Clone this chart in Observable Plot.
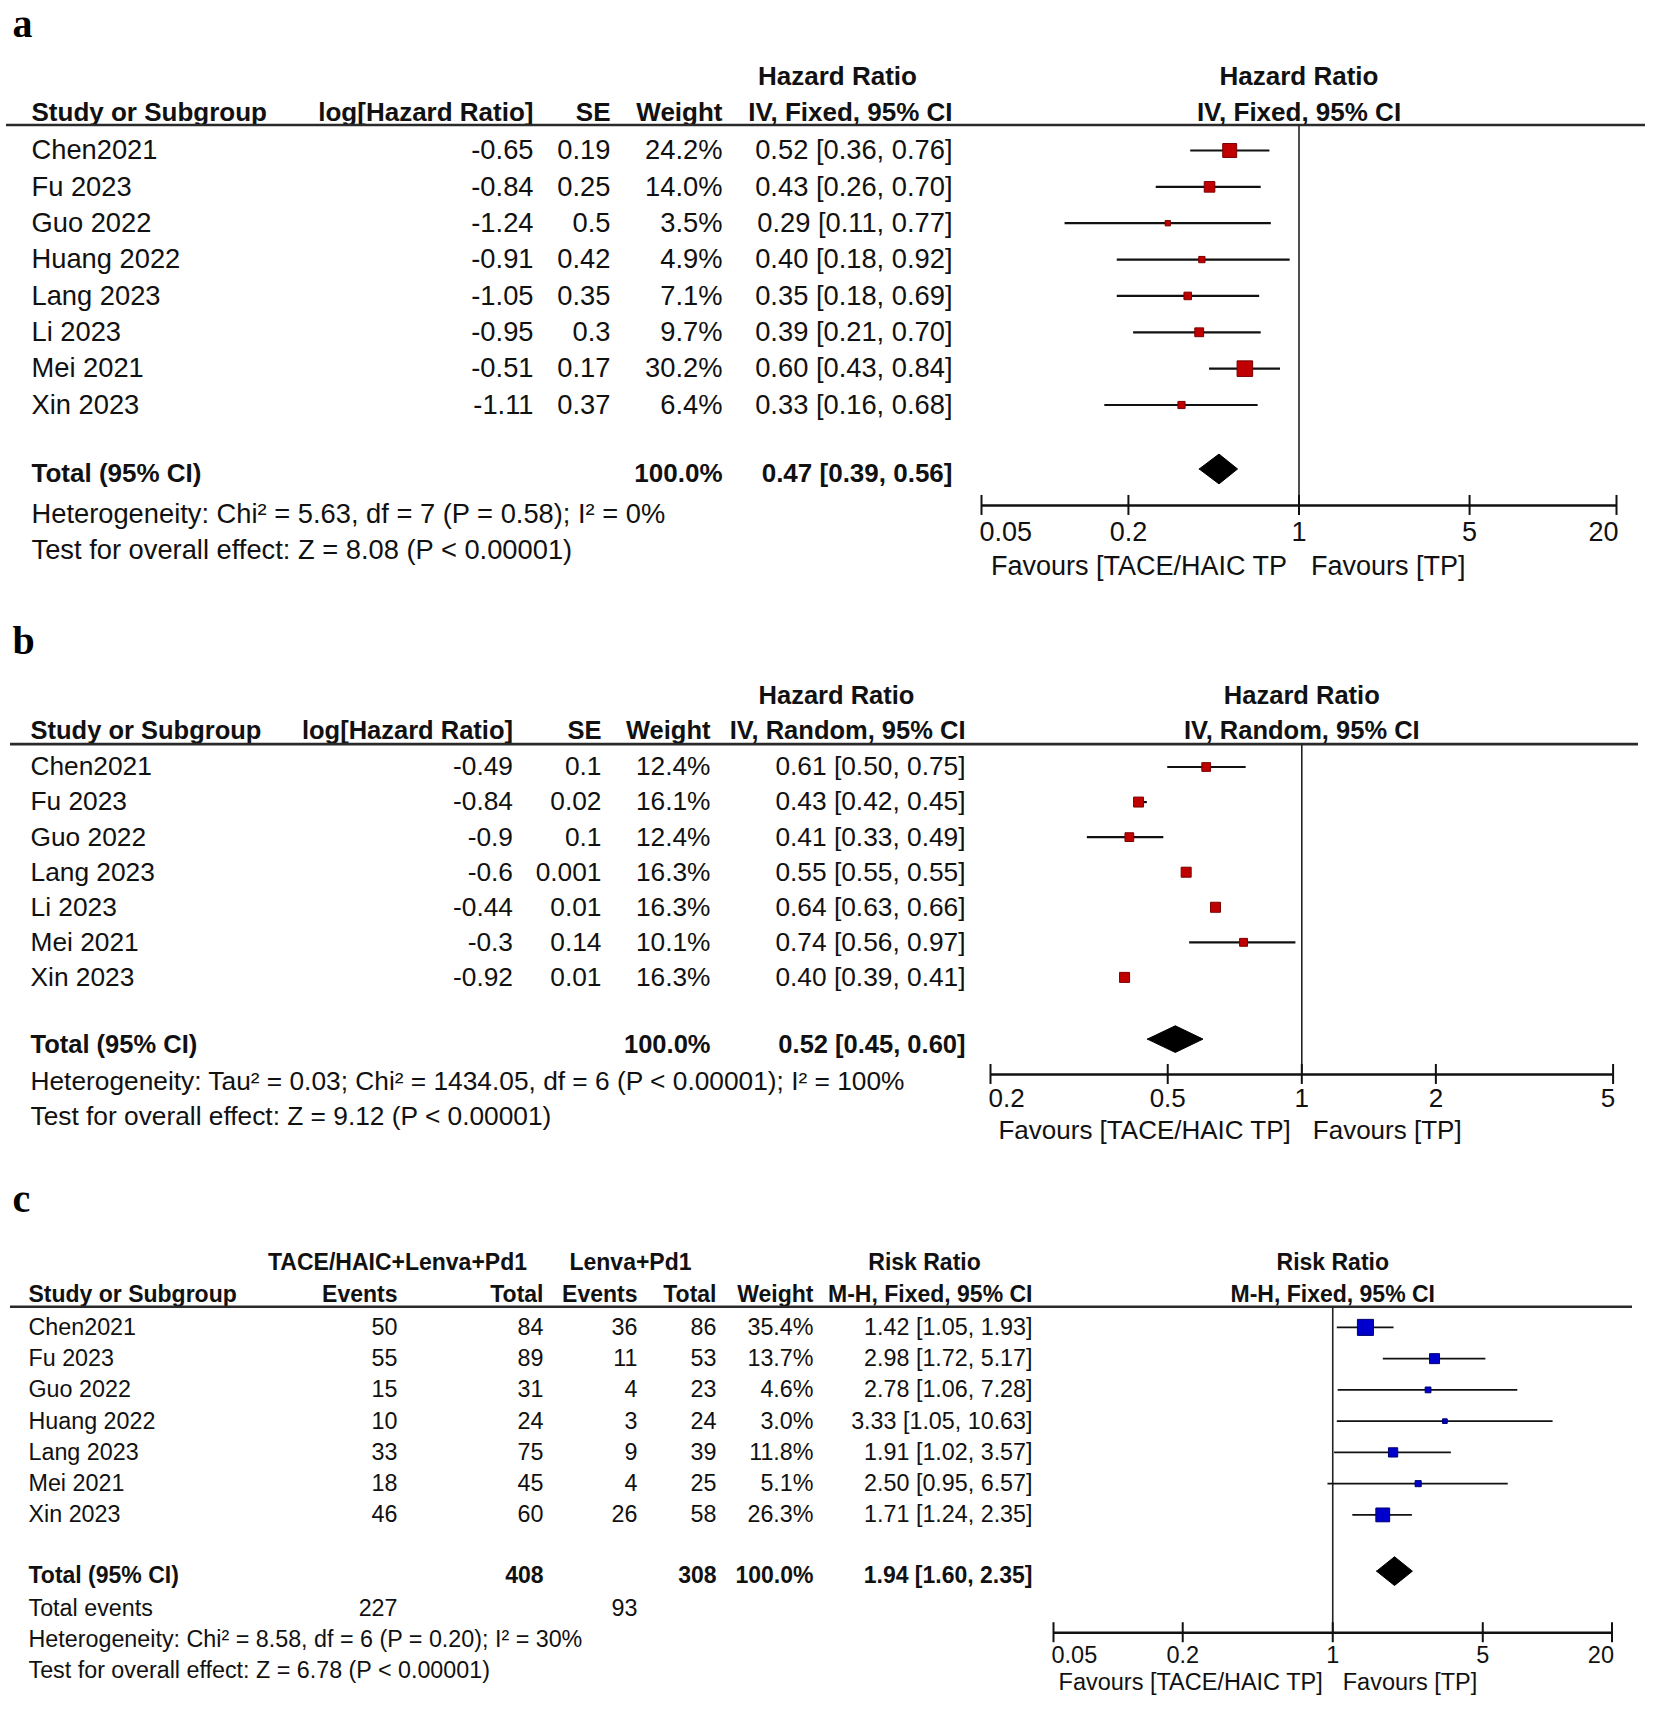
<!DOCTYPE html>
<html><head><meta charset="utf-8">
<script src="https://cdn.jsdelivr.net/npm/d3@7"></script>
<script src="https://cdn.jsdelivr.net/npm/@observablehq/plot@0.6"></script>
<style>
body{margin:0;background:#fff;}
#chart{width:1654px;}
#chart svg{display:block;}
</style></head><body><div id="chart"></div>
<script>
// ---------- Panel a data ----------
const studiesA = ["Chen2021","Fu 2023","Guo 2022","Huang 2022","Lang 2023","Li 2023","Mei 2021","Xin 2023"];
const logHrA = [-0.65,-0.84,-1.24,-0.91,-1.05,-0.95,-0.51,-1.11];
const seA = [0.19,0.25,0.5,0.42,0.35,0.3,0.17,0.37];
const weightA = [24.2,14.0,3.5,4.9,7.1,9.7,30.2,6.4];
const hrA = [0.52,0.43,0.29,0.40,0.35,0.39,0.60,0.33];
const lowA = [0.36,0.26,0.11,0.18,0.18,0.21,0.43,0.16];
const highA = [0.76,0.70,0.77,0.92,0.69,0.70,0.84,0.68];
const totalA = {weight: 100.0, est: 0.47, low: 0.39, high: 0.56};
const ticksA = [0.05, 0.2, 1, 5, 20];
const footA = ["Heterogeneity: Chi\u00B2 = 5.63, df = 7 (P = 0.58); I\u00B2 = 0%", "Test for overall effect: Z = 8.08 (P < 0.00001)"];
const favoursA = ["Favours [TACE/HAIC TP", "Favours [TP]"];

// ---------- Panel b data ----------
const studiesB = ["Chen2021","Fu 2023","Guo 2022","Lang 2023","Li 2023","Mei 2021","Xin 2023"];
const logHrB = [-0.49,-0.84,-0.9,-0.6,-0.44,-0.3,-0.92];
const seB = [0.1,0.02,0.1,0.001,0.01,0.14,0.01];
const weightB = [12.4,16.1,12.4,16.3,16.3,10.1,16.3];
const hrB = [0.61,0.43,0.41,0.55,0.64,0.74,0.40];
const lowB = [0.50,0.42,0.33,0.55,0.63,0.56,0.39];
const highB = [0.75,0.45,0.49,0.55,0.66,0.97,0.41];
const totalB = {weight: 100.0, est: 0.52, low: 0.45, high: 0.60};
const ticksB = [0.2, 0.5, 1, 2, 5];
const footB = ["Heterogeneity: Tau\u00B2 = 0.03; Chi\u00B2 = 1434.05, df = 6 (P < 0.00001); I\u00B2 = 100%", "Test for overall effect: Z = 9.12 (P < 0.00001)"];
const favoursB = ["Favours [TACE/HAIC TP]", "Favours [TP]"];

// ---------- Panel c data ----------
const studiesC = ["Chen2021","Fu 2023","Guo 2022","Huang 2022","Lang 2023","Mei 2021","Xin 2023"];
const eventsExpC = [50,55,15,10,33,18,46];
const totalExpC = [84,89,31,24,75,45,60];
const eventsCtlC = [36,11,4,3,9,4,26];
const totalCtlC = [86,53,23,24,39,25,58];
const weightC = [35.4,13.7,4.6,3.0,11.8,5.1,26.3];
const rrC = [1.42,2.98,2.78,3.33,1.91,2.50,1.71];
const lowC = [1.05,1.72,1.06,1.05,1.02,0.95,1.24];
const highC = [1.93,5.17,7.28,10.63,3.57,6.57,2.35];
const totalC = {totalExp: 408, totalCtl: 308, eventsExp: 227, eventsCtl: 93, weight: 100.0, est: 1.94, low: 1.60, high: 2.35};
const ticksC = [0.05, 0.2, 1, 5, 20];
const footC = ["Heterogeneity: Chi\u00B2 = 8.58, df = 6 (P = 0.20); I\u00B2 = 30%", "Test for overall effect: Z = 6.78 (P < 0.00001)"];
const favoursC = ["Favours [TACE/HAIC TP]", "Favours [TP]"];

// ---------- helpers ----------
const FONT = "'Liberation Sans', Arial, sans-serif";
const SERIF = "'Liberation Serif', 'Times New Roman', serif";
const f2 = v => v.toFixed(2);
const ci = (e, l, h) => `${f2(e)} [${f2(l)}, ${f2(h)}]`;
const pct = w => w.toFixed(1) + "%";

function forest(cfg) {
  const L = cfg.layout;
  const ML = cfg.marginLeft;
  const fs = cfg.fontSize;
  const fsb = cfg.boldSize;
  const at = (px, anchor) => ({frameAnchor: "left", dx: px - ML, textAnchor: anchor});
  const txt = {fontFamily: FONT, fill: "#111"};
  const one = (s, y, px, anchor, extra = {}) =>
    Plot.text([s], {y: () => y, text: d => d, ...at(px, anchor), ...txt, fontSize: fs, ...extra});
  const marks = [];

  // panel letter
  marks.push(one(cfg.label, L.label, 12, "start", {lineAnchor: "bottom", fontFamily: SERIF, fontWeight: "bold", fontSize: 40, fill: "#000"}));

  // table headers
  for (const h of cfg.header1) marks.push(one(h.text, L.h1, h.px, h.anchor, {fontWeight: "bold", fontSize: fsb}));
  for (const h of cfg.header2) marks.push(one(h.text, L.h2, h.px, h.anchor, {fontWeight: "bold", fontSize: fsb}));
  // forest headers centred on the no-effect line
  marks.push(Plot.text([cfg.plotHead[0]], {x: 1, y: L.h1, text: d => d, ...txt, fontSize: fsb, fontWeight: "bold"}));
  marks.push(Plot.text([cfg.plotHead[1]], {x: 1, y: L.h2, text: d => d, ...txt, fontSize: fsb, fontWeight: "bold"}));

  // header rule
  marks.push(Plot.ruleY([L.rule], {stroke: "#2a2a2a", strokeWidth: 2.6}));

  // study rows
  marks.push(Plot.text(cfg.rows, {y: "i", text: "study", ...at(cfg.studyPx, "start"), ...txt, fontSize: fs}));
  for (const c of cfg.cols) marks.push(Plot.text(cfg.rows, {y: "i", text: c.text, ...at(c.px, "end"), ...txt, fontSize: fs}));

  // total row
  marks.push(one("Total (95% CI)", L.totalText, cfg.studyPx, "start", {fontWeight: "bold", fontSize: fsb}));
  for (const c of cfg.totalCells) marks.push(one(c.text, L.totalText, c.px, "end", {fontWeight: "bold", fontSize: fsb}));
  for (const c of (cfg.extraRows || [])) marks.push(one(c.text, c.y, c.px, c.anchor, {}));

  // footers
  marks.push(one(cfg.foot[0], L.het, cfg.studyPx, "start"));
  marks.push(one(cfg.foot[1], L.test, cfg.studyPx, "start"));

  // no-effect line
  marks.push(Plot.ruleX([1], {y1: L.rule, y2: L.axis, stroke: "#222", strokeWidth: 1.6}));
  // confidence intervals
  marks.push(Plot.ruleY(cfg.rows, {y: "i", x1: "low", x2: "high", stroke: "#111", strokeWidth: cfg.ciWidth}));
  // squares
  marks.push(Plot.dot(cfg.rows, {x: "est", y: "i", r: "weight", symbol: "square", fill: cfg.fill, stroke: cfg.edge, strokeWidth: 1}));
  // diamond
  const t = cfg.total, dh = L.diamond, dy0 = L.diamondY;
  const diamond = [
    {x: t.low, y: dy0}, {x: t.est, y: dy0 - dh}, {x: t.high, y: dy0},
    {x: t.est, y: dy0 + dh}, {x: t.low, y: dy0}
  ];
  marks.push(Plot.line(diamond, {x: "x", y: "y", fill: "#000", stroke: "#000", strokeWidth: 1}));

  // axis
  const tk = cfg.ticks;
  marks.push(Plot.ruleY([L.axis], {x1: tk[0], x2: tk[tk.length - 1], stroke: "#111", strokeWidth: 2.6}));
  marks.push(Plot.ruleX(tk, {x: d => d, y1: L.axis - L.tick, y2: L.axis + L.tick, stroke: "#111", strokeWidth: 2}));
  const tlab = {y: L.tickLab, text: d => String(d), ...txt, fontSize: cfg.tickSize};
  marks.push(Plot.text(tk.slice(0, 1), {x: d => d, ...tlab, textAnchor: "start", dx: -2}));
  marks.push(Plot.text(tk.slice(1, -1), {x: d => d, ...tlab, textAnchor: "middle"}));
  marks.push(Plot.text(tk.slice(-1), {x: d => d, ...tlab, textAnchor: "end", dx: 2}));
  // favours labels
  marks.push(Plot.text([cfg.favours[0]], {x: 1, y: L.fav, text: d => d, ...txt, fontSize: cfg.tickSize, textAnchor: "end", dx: -cfg.favGap}));
  marks.push(Plot.text([cfg.favours[1]], {x: 1, y: L.fav, text: d => d, ...txt, fontSize: cfg.tickSize, textAnchor: "start", dx: cfg.favGap}));

  return Plot.plot({
    width: 1654,
    height: cfg.height,
    marginLeft: ML,
    marginRight: cfg.marginRight,
    marginTop: 0,
    marginBottom: 0,
    style: {background: "#fff", fontFamily: FONT, overflow: "visible"},
    x: {type: "log", domain: cfg.xDomain, range: cfg.xRange, axis: null},
    y: {type: "linear", domain: [0, cfg.rows.length - 1], range: cfg.yRange, axis: null},
    r: {type: "sqrt", domain: [0, 100], range: [0, cfg.rMax]},
    marks
  });
}

// ---------- panel a ----------
const rowsA = studiesA.map((s, i) => ({i, study: s, logHr: logHrA[i], se: seA[i], weight: weightA[i], est: hrA[i], low: lowA[i], high: highA[i]}));
const plotA = forest({
  label: "a", height: 600, marginLeft: 6, marginRight: 9,
  fontSize: 27.3, boldSize: 26, tickSize: 27,
  xDomain: [0.05, 20], xRange: [981, 1616], yRange: [150, 404.5],
  rMax: 16, ciWidth: 2.2, fill: "#c00000", edge: "#7a0000",
  rows: rowsA, total: totalA, ticks: ticksA, foot: footA, favours: favoursA, favGap: 12,
  studyPx: 31,
  header1: [{text: "Hazard Ratio", px: 837, anchor: "middle"}],
  header2: [
    {text: "Study or Subgroup", px: 31, anchor: "start"},
    {text: "log[Hazard Ratio]", px: 533, anchor: "end"},
    {text: "SE", px: 610, anchor: "end"},
    {text: "Weight", px: 722, anchor: "end"},
    {text: "IV, Fixed, 95% CI", px: 952, anchor: "end"}
  ],
  plotHead: ["Hazard Ratio", "IV, Fixed, 95% CI"],
  cols: [
    {px: 533, text: d => String(d.logHr)},
    {px: 610, text: d => String(d.se)},
    {px: 722, text: d => pct(d.weight)},
    {px: 952, text: d => ci(d.est, d.low, d.high)}
  ],
  totalCells: [
    {px: 722, text: pct(totalA.weight)},
    {px: 952, text: ci(totalA.est, totalA.low, totalA.high)}
  ],
  layout: {label: -3.135, h1: -2.035, h2: -1.045, rule: -0.70, totalText: 8.9, diamondY: 8.76, diamond: 0.41,
           axis: 9.763, tick: 0.275, tickLab: 10.506, fav: 11.44, het: 9.997, test: 10.987}
});

// ---------- panel b ----------
const rowsB = studiesB.map((s, i) => ({i, study: s, logHr: logHrB[i], se: seB[i], weight: weightB[i], est: hrB[i], low: lowB[i], high: highB[i]}));
const plotB = forest({
  label: "b", height: 570, marginLeft: 10, marginRight: 16,
  fontSize: 26.3, boldSize: 25.5, tickSize: 26,
  xDomain: [0.2, 5], xRange: [990, 1612.6], yRange: [166.5, 376.9],
  rMax: 14, ciWidth: 2.2, fill: "#c00000", edge: "#7a0000",
  rows: rowsB, total: totalB, ticks: ticksB, foot: footB, favours: favoursB, favGap: 11,
  studyPx: 30,
  header1: [{text: "Hazard Ratio", px: 836, anchor: "middle"}],
  header2: [
    {text: "Study or Subgroup", px: 30, anchor: "start"},
    {text: "log[Hazard Ratio]", px: 512.5, anchor: "end"},
    {text: "SE", px: 601, anchor: "end"},
    {text: "Weight", px: 710, anchor: "end"},
    {text: "IV, Random, 95% CI", px: 965, anchor: "end"}
  ],
  plotHead: ["Hazard Ratio", "IV, Random, 95% CI"],
  cols: [
    {px: 512.5, text: d => String(d.logHr)},
    {px: 601, text: d => String(d.se)},
    {px: 710, text: d => pct(d.weight)},
    {px: 965, text: d => ci(d.est, d.low, d.high)}
  ],
  totalCells: [
    {px: 710, text: pct(totalB.weight)},
    {px: 965, text: ci(totalB.est, totalB.low, totalB.high)}
  ],
  layout: {label: -3.21, h1: -2.02, h2: -1.03, rule: -0.653, totalText: 7.92, diamondY: 7.76, diamond: 0.38,
           axis: 8.768, tick: 0.285, tickLab: 9.45, fav: 10.38, het: 8.985, test: 9.98}
});

// ---------- panel c ----------
const rowsC = studiesC.map((s, i) => ({i, study: s, evE: eventsExpC[i], totE: totalExpC[i], evC: eventsCtlC[i], totC: totalCtlC[i], weight: weightC[i], est: rrC[i], low: lowC[i], high: highC[i]}));
const plotC = forest({
  label: "c", height: 540, marginLeft: 10, marginRight: 22,
  fontSize: 23.3, boldSize: 23, tickSize: 23.5,
  xDomain: [0.05, 20], xRange: [1053, 1611.5], yRange: [156.9, 344.4],
  rMax: 15.2, ciWidth: 1.7, fill: "#0000cc", edge: "#00006e",
  rows: rowsC, total: totalC, ticks: ticksC, foot: footC, favours: favoursC, favGap: 10,
  studyPx: 28,
  header1: [
    {text: "TACE/HAIC+Lenva+Pd1", px: 397, anchor: "middle"},
    {text: "Lenva+Pd1", px: 630, anchor: "middle"},
    {text: "Risk Ratio", px: 924, anchor: "middle"}
  ],
  header2: [
    {text: "Study or Subgroup", px: 28, anchor: "start"},
    {text: "Events", px: 397, anchor: "end"},
    {text: "Total", px: 543, anchor: "end"},
    {text: "Events", px: 637, anchor: "end"},
    {text: "Total", px: 716, anchor: "end"},
    {text: "Weight", px: 813, anchor: "end"},
    {text: "M-H, Fixed, 95% CI", px: 1032, anchor: "end"}
  ],
  plotHead: ["Risk Ratio", "M-H, Fixed, 95% CI"],
  cols: [
    {px: 397, text: d => String(d.evE)},
    {px: 543, text: d => String(d.totE)},
    {px: 637, text: d => String(d.evC)},
    {px: 716, text: d => String(d.totC)},
    {px: 813, text: d => pct(d.weight)},
    {px: 1032, text: d => ci(d.est, d.low, d.high)}
  ],
  totalCells: [
    {px: 543, text: String(totalC.totalExp)},
    {px: 716, text: String(totalC.totalCtl)},
    {px: 813, text: pct(totalC.weight)},
    {px: 1032, text: ci(totalC.est, totalC.low, totalC.high)}
  ],
  extraRows: [
    {text: "Total events", y: 9.0, px: 28, anchor: "start"},
    {text: String(totalC.eventsExp), y: 9.0, px: 397, anchor: "end"},
    {text: String(totalC.eventsCtl), y: 9.0, px: 637, anchor: "end"}
  ],
  layout: {label: -3.68, h1: -2.06, h2: -1.05, rule: -0.66, totalText: 7.93, diamondY: 7.8, diamond: 0.46,
           axis: 9.77, tick: 0.32, tickLab: 10.5, fav: 11.37, het: 9.98, test: 10.99}
});

const chart = document.getElementById("chart");
chart.append(plotA, plotB, plotC);
</script>
</body></html>
